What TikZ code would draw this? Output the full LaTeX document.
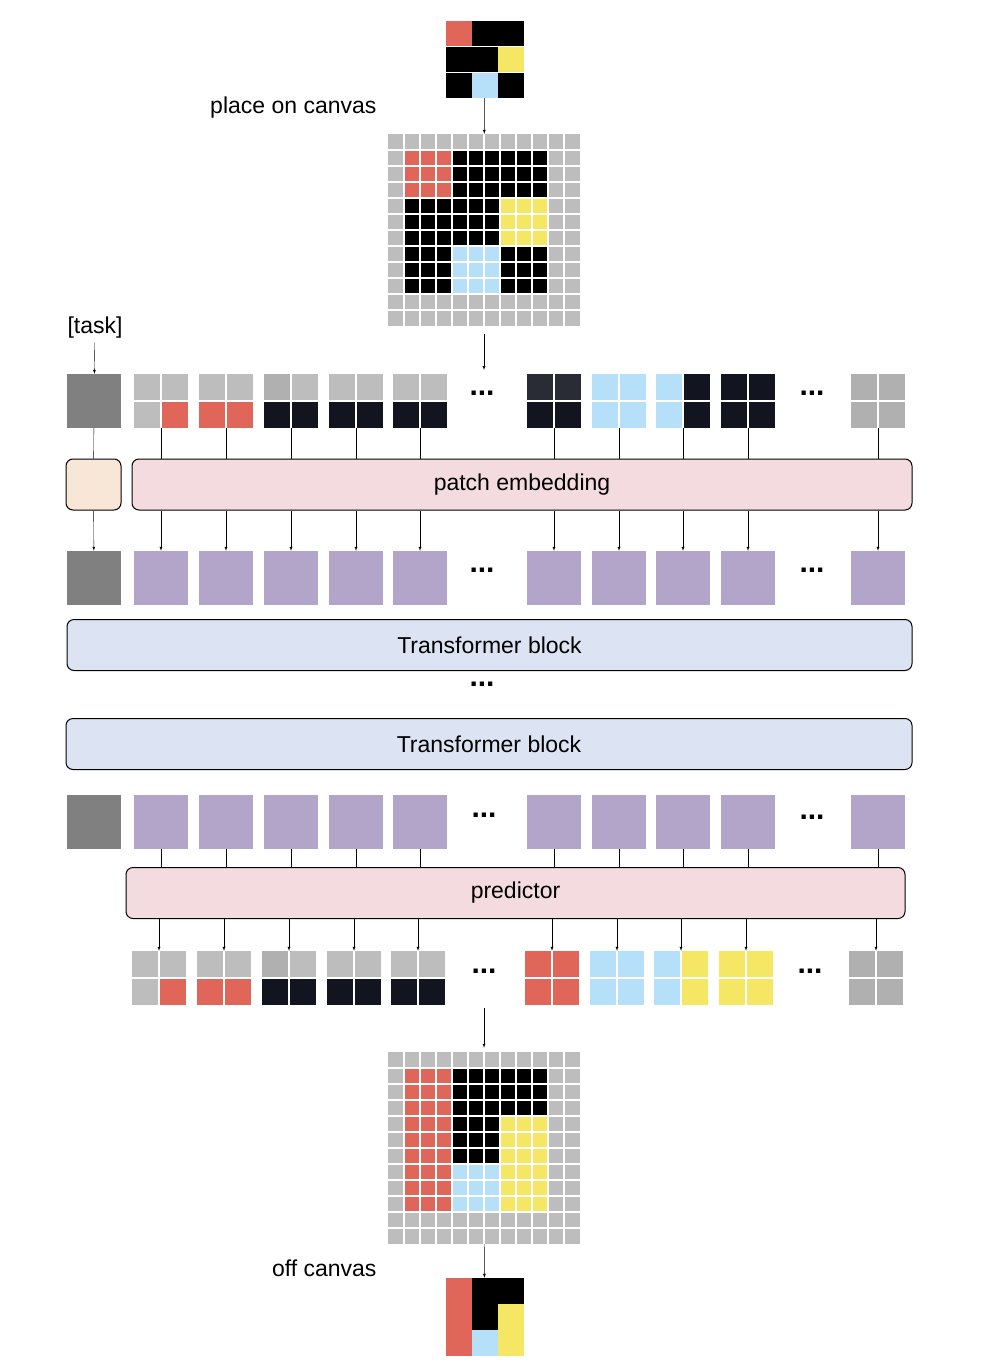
\documentclass[tikz,border=0pt]{standalone}
\usepackage{fontspec}
\setmainfont{Liberation Sans}
\usetikzlibrary{positioning,calc,arrows}
\definecolor{cred}{HTML}{E1665A}
\definecolor{cblk}{HTML}{12141F}
\definecolor{cgray}{HTML}{BDBDBD}
\definecolor{cdgray}{HTML}{B0B0B0}
\definecolor{cblue}{HTML}{B6DFF9}
\definecolor{cyel}{HTML}{F5E763}
\definecolor{cpurp}{HTML}{B3A4C9}
\definecolor{cpink}{HTML}{F4DBDF}
\definecolor{clblue}{HTML}{DCE3F3}
\definecolor{cpeach}{HTML}{F8E6D7}
\definecolor{ctask}{HTML}{808080}
\tikzset{blk/.style={draw, rounded corners=7pt, line width=1pt, minimum height=51pt, font=\fontsize{23}{26}\selectfont},
  hid/.style={inner sep=0pt, minimum size=#1},
  tok/.style={fill=cpurp, inner sep=0pt, minimum size=54pt},
  dots/.style={font=\fontsize{30}{30}\selectfont\bfseries},
  lbl/.style={font=\fontsize{23}{26}\selectfont}}
% 2x2 patch: name, x, y, TL, TR, BL, BR
\newcommand\patch[7]{%
  \fill[#4] (#2,#3) rectangle ++(26,26);
  \fill[#5] (#2+28,#3) rectangle ++(26,26);
  \fill[#6] (#2,#3+28) rectangle ++(26,26);
  \fill[#7] (#2+28,#3+28) rectangle ++(26,26);
  \node[hid=54pt] (#1) at (#2+27,#3+27) {};}
% 12x12 canvas: name, x, y, 3x3 colours
\newcommand\canvas[4]{%
  \fill[cgray] (#2,#3) rectangle ++(192,192);
  \foreach \c [count=\k from 0] in {#4} {
    \pgfmathtruncatemacro\rr{\k/3}
    \pgfmathtruncatemacro\cc{mod(\k,3)}
    \fill[\c] (#2+16+48*\cc,#3+16+48*\rr) rectangle ++(48,48);}
  \foreach \i in {1,...,11} {
    \draw[white,line width=1.5pt] (#2+16*\i,#3) -- ++(0,192);
    \draw[white,line width=1.5pt] (#2,#3+16*\i) -- ++(192,0);}
  \node[hid=192pt] (#1) at (#2+96,#3+96) {};}
% 3x3 grid: name, x, y, colours
\newcommand\grid[4]{%
  \foreach \c [count=\k from 0] in {#4} {
    \pgfmathtruncatemacro\rr{\k/3}
    \pgfmathtruncatemacro\cc{mod(\k,3)}
    \fill[\c] (#2+26*\cc,#3+26*\rr) rectangle ++(25.5,25.5);}
  \node[hid=77pt] (#1) at (#2+38.5,#3+38.5) {};}
\begin{document}
\begin{tikzpicture}[x=1pt,y=-1pt]
  \useasboundingbox (0,0) rectangle (986,1362);

  % input
  \grid{gin}{446}{21}{cred,black,black,black,black,cyel,black,cblue,black}
  \node[lbl, anchor=east] (place) at (380,108) {place on canvas};
  \canvas{cin}{388}{134}{cred,black,black,black,black,cyel,black,cblue,black}
  \draw[-latex] (gin) -- (cin);
  \coordinate (cinend) at (484,370);
  \draw[-latex] (cin.south) ++(0,8) -- (cinend);

  % input patches
  \node[lbl] (task) at (95,328) {[task]};
  \node[hid=54pt, fill=ctask] (i0) at (94,401) {};
  \draw[-latex] (task) -- (i0);
  \patch{i1}{134}{374}{cgray}{cgray}{cgray}{cred}
  \patch{i2}{199}{374}{cgray}{cgray}{cred}{cred}
  \patch{i3}{264}{374}{cdgray}{cgray}{cblk}{cblk}
  \patch{i4}{329}{374}{cgray}{cgray}{cblk}{cblk}
  \patch{i5}{393}{374}{cgray}{cgray}{cblk}{cblk}
  \node[dots] at (482,393) {...};
  \patch{i6}{527}{374}{cblk!90!white}{cblk!90!white}{cblk}{cblk}
  \patch{i7}{592}{374}{cblue}{cblue}{cblue}{cblue}
  \patch{i8}{656}{374}{cblue}{cblk}{cblue}{cblk}
  \patch{i9}{721}{374}{cblk}{cblk}{cblk}{cblk}
  \node[dots] at (812,393) {...};
  \patch{i10}{851}{374}{cdgray}{cdgray}{cdgray}{cdgray}

  % patch embedding
  \node[blk, fill=cpeach, minimum width=55pt] (tk) at (93.5,484.5) {};
  \node[blk, fill=cpink, minimum width=780pt] (pe) at (522,484.5) {patch embedding};
  \draw (i0) -- (tk);
  \foreach \n in {1,...,10} \draw (i\n.south) -- (i\n.south |- pe.north);

  % embedded tokens
  \node[hid=54pt, fill=ctask] (e0) at (94,578) {};
  \draw[-latex] (tk) -- (e0);
  \foreach \n/\x in {1/161,2/226,3/291,4/356,5/420,6/554,7/619,8/683,9/748,10/878} {
    \node[tok] (e\n) at (\x,578) {};
    \draw[-latex] (e\n.north |- pe.south) -- (e\n);}
  \node[dots] at (482,570) {...};
  \node[dots] at (812,570) {...};

  % transformer
  \node[blk, fill=clblue, minimum width=845pt] (tb1) at (489.5,645) {Transformer block};
  \node[dots] at (482,684) {...};
  \node[blk, fill=clblue, minimum width=846pt] (tb2) at (489,744) {Transformer block};

  % output tokens
  \node[hid=54pt, fill=ctask] (o0) at (94,822) {};
  \foreach \n/\x in {1/161,2/226,3/291,4/356,5/420,6/554,7/619,8/683,9/748,10/878}
    \node[tok] (o\n) at (\x,822) {};
  \node[dots] at (484,815) {...};
  \node[dots] at (812,817) {...};

  % predictor
  \node[blk, fill=cpink, minimum width=779pt] (pr) at (515.5,893) {predictor};
  \foreach \n in {1,...,10} \draw (o\n.south) -- (o\n.south |- pr.north);

  % predicted patches
  \patch{p1}{132}{951}{cgray}{cgray}{cgray}{cred}
  \patch{p2}{197}{951}{cgray}{cgray}{cred}{cred}
  \patch{p3}{262}{951}{cdgray}{cgray}{cblk}{cblk}
  \patch{p4}{327}{951}{cgray}{cgray}{cblk}{cblk}
  \patch{p5}{391}{951}{cgray}{cgray}{cblk}{cblk}
  \node[dots] at (484,971) {...};
  \patch{p6}{525}{951}{cred}{cred}{cred}{cred}
  \patch{p7}{590}{951}{cblue}{cblue}{cblue}{cblue}
  \patch{p8}{654}{951}{cblue}{cyel}{cblue}{cyel}
  \patch{p9}{719}{951}{cyel}{cyel}{cyel}{cyel}
  \node[dots] at (810,971) {...};
  \patch{p10}{849}{951}{cdgray}{cdgray}{cdgray}{cdgray}
  \foreach \n in {1,...,10} \draw[-latex] (p\n.north |- pr.south) -- (p\n);

  % output
  \coordinate (coutstart) at (484,1008);
  \canvas{cout}{388}{1052}{cred,black,black,cred,black,cyel,cred,cblue,cyel}
  \draw[-latex] (coutstart) -- ($(cout.north)+(0,-4)$);
  \node[lbl, anchor=east] (off) at (380,1268) {off canvas};
  \grid{gout}{446}{1278}{cred,black,black,cred,black,cyel,cred,cblue,cyel}
  \draw[-latex] (cout) -- (gout);
\end{tikzpicture}
\end{document}
